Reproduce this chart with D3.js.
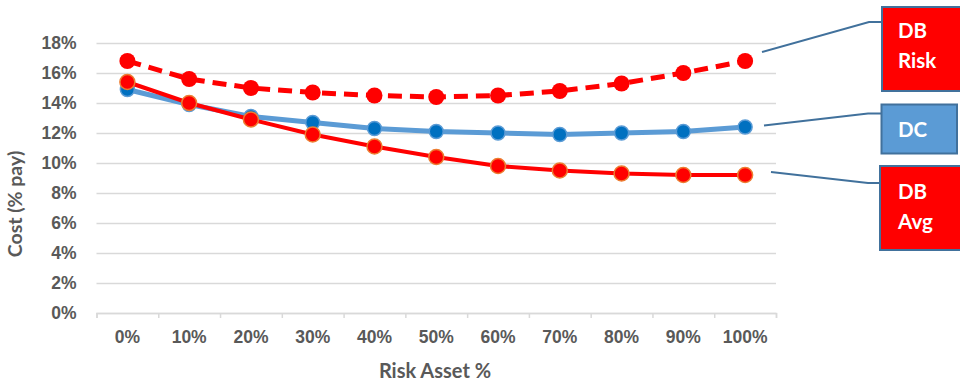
<!DOCTYPE html>
<html>
<head>
<meta charset="utf-8">
<script src="https://cdn.jsdelivr.net/npm/d3@7"></script>
<style>
  html, body { margin: 0; padding: 0; background: #fff; }
  svg { display: block; font-family: Lato, "Open Sans", "Liberation Sans", sans-serif; }
</style>
</head>
<body>
<svg id="chart" width="960" height="383"></svg>
<script>
// Risk asset allocation categories
const categories = ["0%", "10%", "20%", "30%", "40%", "50%", "60%", "70%", "80%", "90%", "100%"];
// Cost as % of pay for each plan design
const dbRisk = [16.8, 15.6, 15.0, 14.7, 14.5, 14.4, 14.5, 14.8, 15.3, 16.0, 16.8];
const dc     = [14.9, 13.9, 13.1, 12.7, 12.3, 12.1, 12.0, 11.9, 12.0, 12.1, 12.4];
const dbAvg  = [15.4, 14.0, 12.9, 11.9, 11.1, 10.4, 9.8, 9.5, 9.3, 9.2, 9.2];
const yTicks = [0, 2, 4, 6, 8, 10, 12, 14, 16, 18];

const svg = d3.select("#chart");
const plot = { left: 96.5, right: 776, top: 43, bottom: 313 };

const x = d3.scaleBand().domain(categories).range([plot.left, plot.right]).paddingInner(0).paddingOuter(0);
const xEdge = d3.scaleLinear().domain([0, categories.length]).range([plot.left, plot.right]);
const y = d3.scaleLinear().domain([0, 18]).range([plot.bottom, plot.top]);
const cx = c => x(c) + x.bandwidth() / 2;

// Horizontal gridlines and y tick labels
const yAxis = svg.append("g")
  .attr("transform", `translate(${plot.left},0)`)
  .call(d3.axisLeft(y).tickValues(yTicks).tickSize(-(plot.right - plot.left)).tickPadding(20).tickFormat(d => d + "%"));
yAxis.select(".domain").remove();
yAxis.selectAll(".tick line").attr("stroke", "#d9d9d9").attr("stroke-width", 1.5);
yAxis.selectAll(".tick text")
  .attr("fill", "#595959").attr("font-size", 17.5).attr("font-weight", "bold");

// Category axis: baseline, boundary tick marks, labels
const xTicks = svg.append("g")
  .attr("transform", `translate(0,${plot.bottom})`)
  .call(d3.axisBottom(xEdge).tickValues(d3.range(categories.length + 1)).tickSize(5).tickFormat(""));
xTicks.select(".domain").attr("stroke", "#d9d9d9").attr("stroke-width", 1.5);
xTicks.selectAll(".tick line").attr("stroke", "#d9d9d9").attr("stroke-width", 1.5);

const xLabels = svg.append("g")
  .attr("transform", `translate(0,${plot.bottom})`)
  .call(d3.axisBottom(x).tickSize(0).tickPadding(18));
xLabels.select(".domain").remove();
xLabels.selectAll(".tick text")
  .attr("fill", "#595959").attr("font-size", 17.5).attr("font-weight", "bold");

// Axis titles
svg.append("text")
  .attr("x", 435).attr("y", 378)
  .attr("text-anchor", "middle")
  .attr("fill", "#595959").attr("font-size", 20).attr("font-weight", "bold")
  .text("Risk Asset %");
svg.append("text")
  .attr("transform", "translate(22,204) rotate(-90)")
  .attr("text-anchor", "middle")
  .attr("fill", "#595959").attr("font-size", 19.5).attr("font-weight", "bold")
  .text("Cost (% pay)");

const line = d3.line().x((d, i) => cx(categories[i])).y(d => y(d));

function drawSeries(values, opts) {
  const g = svg.append("g");
  g.append("path")
    .datum(values)
    .attr("d", line)
    .attr("fill", "none")
    .attr("stroke", opts.lineColor)
    .attr("stroke-width", opts.lineWidth)
    .attr("stroke-dasharray", opts.dash || null)
    .attr("stroke-linejoin", "round");
  g.selectAll("circle")
    .data(values)
    .join("circle")
    .attr("cx", (d, i) => cx(categories[i]))
    .attr("cy", d => y(d))
    .attr("r", opts.r)
    .attr("fill", opts.fill)
    .attr("stroke", opts.stroke || "none")
    .attr("stroke-width", opts.strokeWidth || 0);
}

drawSeries(dc, { lineColor: "#5b9bd5", lineWidth: 5, r: 7, fill: "#0070c0", stroke: "#5b9bd5", strokeWidth: 1.5 });
drawSeries(dbAvg, { lineColor: "#ff0000", lineWidth: 4, r: 7.5, fill: "#ff0000", stroke: "#ed7d31", strokeWidth: 1.5 });
drawSeries(dbRisk, { lineColor: "#ff0000", lineWidth: 5, dash: "14,8", r: 8, fill: "#ff0000" });

// Callout labels with leader lines
const callouts = [
  { lines: ["DB", "Risk"], box: [882, 7, 90, 84], fill: "#ff0000", leader: [[762, 52], [869, 22], [882, 22]], baselines: [38, 68] },
  { lines: ["DC"], box: [881.5, 104.5, 75.5, 49], fill: "#5b9bd5", leader: [[764, 125.5], [868, 113.5], [881, 113.5]], baselines: [137] },
  { lines: ["DB", "Avg"], box: [880, 166, 90, 84], fill: "#ff0000", leader: [[771, 172], [868, 183], [880, 183]], baselines: [199, 229] }
];

callouts.forEach(c => {
  svg.append("path")
    .attr("d", d3.line()(c.leader))
    .attr("fill", "none")
    .attr("stroke", "#41719c")
    .attr("stroke-width", 2);
  svg.append("rect")
    .attr("x", c.box[0]).attr("y", c.box[1])
    .attr("width", c.box[2]).attr("height", c.box[3])
    .attr("fill", c.fill)
    .attr("stroke", "#41719c").attr("stroke-width", 2);
  c.lines.forEach((t, i) => {
    svg.append("text")
      .attr("x", 898).attr("y", c.baselines[i])
      .attr("fill", "#fff").attr("font-size", 20.5).attr("font-weight", "bold")
      .text(t);
  });
});
</script>
</body>
</html>
